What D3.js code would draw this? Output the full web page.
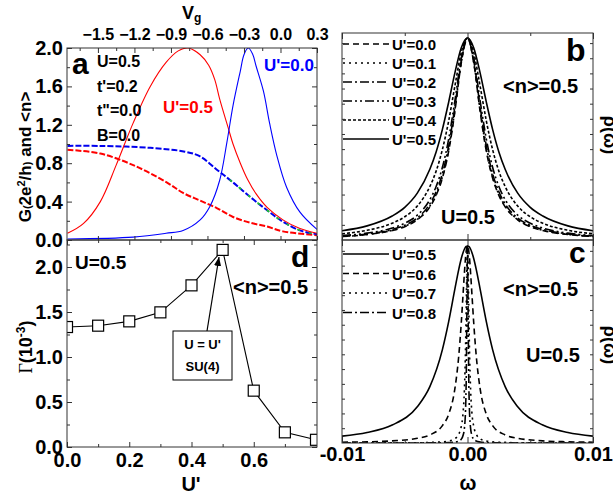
<!DOCTYPE html>
<html><head><meta charset="utf-8">
<script src="https://cdn.jsdelivr.net/npm/d3@7"></script>
<style>
body{margin:0;background:#fff}
svg{display:block}
text{font-family:Arial,"Liberation Sans",sans-serif;font-weight:bold;fill:#000}
</style>
</head><body>
<svg id="chart" width="613" height="494"></svg>
<script>
// ---------- Panel a data (G and <n> vs Vg) ----------
const vgTicks = [-1.5,-1.2,-0.9,-0.6,-0.3,0.0,0.3];
const gTicks = [0,0.4,0.8,1.2,1.6,2.0];
const redG_vg  = [-1.75,-1.62,-1.48,-1.35,-1.21,-1.07,-0.94,-0.84,-0.76,-0.66,-0.59,-0.54,-0.50,-0.43,-0.39,-0.33,-0.27,-0.20,-0.11,0.02,0.16,0.30];
const redG     = [0.07,0.17,0.40,0.78,1.22,1.60,1.85,1.97,2.0,1.93,1.82,1.67,1.47,1.17,1.00,0.80,0.63,0.48,0.34,0.21,0.12,0.07];
const blueG_vg = [-1.75,-1.21,-0.94,-0.80,-0.66,-0.58,-0.50,-0.44,-0.39,-0.33,-0.30,-0.265,-0.23,-0.20,-0.14,-0.09,-0.03,0.05,0.16,0.30];
const blueG    = [0.01,0.03,0.07,0.10,0.21,0.35,0.62,1.02,1.40,1.76,1.93,2.0,1.94,1.81,1.55,1.22,0.88,0.55,0.29,0.11];
const blueN_vg = [-1.75,-1.48,-1.07,-0.785,-0.66,-0.52,-0.39,-0.25,-0.11,0.02,0.16,0.30];
const blueN    = [0.98,0.98,0.96,0.92,0.87,0.73,0.60,0.45,0.31,0.19,0.10,0.06];
const redN_vg  = [-1.75,-1.48,-1.21,-0.935,-0.80,-0.66,-0.52,-0.39,-0.25,-0.11,0.02,0.30];
const redN     = [0.94,0.90,0.78,0.60,0.49,0.41,0.33,0.24,0.18,0.14,0.09,0.05];
const greenN_vg = [-0.45,-0.39,-0.25,-0.11,0.02,0.16,0.30];
const greenN    = [0.66,0.60,0.45,0.31,0.19,0.10,0.06];

// ---------- Panel d data (Gamma vs U') ----------
const uPrime = [0.0,0.1,0.2,0.3,0.4,0.5,0.6,0.7,0.8];
const gamma  = [1.333,1.348,1.396,1.496,1.796,2.19,0.626,0.163,0.08];
const uTicks = [0.0,0.2,0.4,0.6];
const gamTicks = [0.0,0.5,1.0,1.5,2.0];

// ---------- Panel b data (rho(omega), omega in 1e-3) ----------
const omegaB = [-10,-8,-6,-5,-4,-3,-2.5,-2,-1.5,-1,-0.5,0,0.5,1,1.5,2,2.5,3,4,5,6,8,10];
const rhoB00 = [0.017,0.027,0.047,0.066,0.100,0.164,0.221,0.307,0.440,0.639,0.876,1,0.876,0.639,0.440,0.307,0.221,0.164,0.100,0.066,0.047,0.027,0.017];
const rhoB01 = [0.018,0.028,0.048,0.068,0.102,0.168,0.226,0.313,0.448,0.646,0.879,1,0.879,0.646,0.448,0.313,0.226,0.168,0.102,0.068,0.048,0.028,0.018];
const rhoB02 = [0.019,0.030,0.052,0.073,0.109,0.179,0.239,0.329,0.466,0.662,0.887,1,0.887,0.662,0.466,0.329,0.239,0.179,0.109,0.073,0.052,0.030,0.019];
const rhoB03 = [0.022,0.034,0.059,0.083,0.123,0.200,0.265,0.360,0.500,0.692,0.900,1,0.900,0.692,0.500,0.360,0.265,0.200,0.123,0.083,0.059,0.034,0.022];
const rhoB04 = [0.031,0.048,0.083,0.115,0.168,0.265,0.341,0.448,0.590,0.764,0.928,1,0.928,0.764,0.590,0.448,0.341,0.265,0.168,0.115,0.083,0.048,0.031];
const rhoB05 = [0.046,0.070,0.119,0.162,0.232,0.350,0.436,0.548,0.683,0.829,0.951,1,0.951,0.829,0.683,0.548,0.436,0.350,0.232,0.162,0.119,0.070,0.046];
const legendB = ["U'=0.0","U'=0.1","U'=0.2","U'=0.3","U'=0.4","U'=0.5"];

// ---------- Panel c data ----------
const omegaC = [-10,-8,-6,-4,-3,-2,-1.5,-1,-0.7,-0.5,-0.35,-0.25,-0.15,-0.1,-0.05,0,0.05,0.1,0.15,0.25,0.35,0.5,0.7,1,1.5,2,3,4,6,8,10];
const rhoC05 = [0.035,0.053,0.091,0.184,0.286,0.474,0.616,0.783,0.880,0.935,0.967,0.983,0.994,0.997,0.999,1,0.999,0.997,0.994,0.983,0.967,0.935,0.880,0.783,0.616,0.474,0.286,0.184,0.091,0.053,0.035];
const rhoC06 = [0.004,0.006,0.011,0.024,0.041,0.088,0.146,0.278,0.440,0.606,0.758,0.860,0.945,0.975,0.994,1,0.994,0.975,0.945,0.860,0.758,0.606,0.440,0.278,0.146,0.088,0.041,0.024,0.011,0.006,0.004];
const rhoC07 = [0,0,0.001,0.001,0.003,0.006,0.010,0.022,0.044,0.083,0.155,0.265,0.500,0.692,0.900,1,0.900,0.692,0.500,0.265,0.155,0.083,0.044,0.022,0.010,0.006,0.003,0.001,0.001,0,0];
const rhoC08 = [0,0,0,0,0.001,0.001,0.002,0.005,0.010,0.019,0.039,0.073,0.179,0.329,0.662,1,0.662,0.329,0.179,0.073,0.039,0.019,0.010,0.005,0.002,0.001,0.001,0,0,0,0];
const legendC = ["U'=0.5","U'=0.6","U'=0.7","U'=0.8"];
const omegaTicks = [-10,0,10];
const omegaLabels = ["-0.01","0.00","0.01"];

// ---------- layout ----------
const svg = d3.select("#chart");
const frame = "#333";
const PA = {x0:67,x1:317,y0:48,y1:240};
const PD = {x0:67,x1:317,y0:240,y1:447};
const PB = {x0:342,x1:593,y0:33,y1:240};
const PC = {x0:342,x1:593,y0:240,y1:443};

const xVg = d3.scaleLinear().domain([-1.754,0.3]).range([PA.x0,PA.x1]);
const yG  = d3.scaleLinear().domain([0,2]).range([PA.y1,PA.y0]);
const xU  = d3.scaleLinear().domain([0,0.8]).range([PD.x0,PD.x1-1]);
const yGam= d3.scaleLinear().domain([0,2.3]).range([PD.y1,PD.y0]);
const xW  = d3.scaleLinear().domain([-10,10]).range([PB.x0,PB.x1]);
const yB  = d3.scaleLinear().domain([0,1.025]).range([PB.y1,PB.y0]);
const yC  = d3.scaleLinear().domain([0,1.03]).range([PC.y1,PC.y0]);

const defs = svg.append("defs");
function clip(id,p){
  defs.append("clipPath").attr("id",id).append("rect")
    .attr("x",p.x0).attr("y",p.y0).attr("width",p.x1-p.x0).attr("height",p.y1-p.y0);
}
clip("ca",PA); clip("cd",PD); clip("cb",PB); clip("cc",PC);
defs.append("marker").attr("id","arr").attr("viewBox","0 0 10 10").attr("refX",10).attr("refY",5)
  .attr("markerWidth",9).attr("markerHeight",9).attr("markerUnits","userSpaceOnUse").attr("orient","auto")
  .append("path").attr("d","M0,1 L10,5 L0,9 Z").attr("fill","#000");

function styleAxis(g, fs){
  g.attr("font-family",null).attr("font-size",null);
  g.select(".domain").remove();
  g.selectAll(".tick line").attr("stroke",frame);
  g.selectAll(".tick text").style("font-size",fs+"px").attr("fill","#000");
}
function addAxis(gen, tx, ty, fs){
  const g = svg.append("g").attr("transform",`translate(${tx},${ty})`).call(gen);
  styleAxis(g, fs||20);
  return g;
}
const noLab = () => "";

// ================= Panel a =================
const gA = svg.append("g").attr("clip-path","url(#ca)");
const lineA = (xs,ys) => d3.line().x((d,i)=>xVg(xs[i])).y(d=>yG(d)).curve(d3.curveCatmullRom.alpha(0.5))(ys);
gA.append("path").attr("d",lineA(redN_vg,redN)).attr("fill","none").attr("stroke","#ff0000").attr("stroke-width",2).attr("stroke-dasharray","6,2");
gA.append("path").attr("d",lineA(blueN_vg,blueN)).attr("fill","none").attr("stroke","#0000ee").attr("stroke-width",2).attr("stroke-dasharray","6,2");
gA.append("path").attr("d",lineA(greenN_vg,greenN)).attr("fill","none").attr("stroke","#22cc22").attr("stroke-width",1.6).attr("stroke-dasharray","3,9").attr("stroke-dashoffset",-5);
gA.append("path").attr("d",lineA(redG_vg,redG)).attr("fill","none").attr("stroke","#ff0000").attr("stroke-width",1.1);
gA.append("path").attr("d",lineA(blueG_vg,blueG)).attr("fill","none").attr("stroke","#0000ff").attr("stroke-width",1.1);

// axes for a
addAxis(d3.axisLeft(yG).tickValues(gTicks).tickSize(-5).tickPadding(4).tickFormat(d3.format(".1f")), PA.x0, 0, 20);
addAxis(d3.axisLeft(yG).tickValues([0.2,0.6,1.0,1.4,1.8]).tickSize(-3).tickFormat(noLab), PA.x0, 0);
addAxis(d3.axisRight(yG).tickValues(gTicks).tickSize(-5).tickFormat(noLab), PA.x1, 0);
addAxis(d3.axisRight(yG).tickValues([0.2,0.6,1.0,1.4,1.8]).tickSize(-3).tickFormat(noLab), PA.x1, 0);
addAxis(d3.axisTop(xVg).tickValues(vgTicks).tickSize(-5).tickPadding(8).tickFormat(d3.format(".1f")), 0, PA.y0, 16);
addAxis(d3.axisTop(xVg).tickValues([-1.65,-1.35,-1.05,-0.75,-0.45,-0.15,0.15]).tickSize(-3).tickFormat(noLab), 0, PA.y0);
addAxis(d3.axisBottom(xVg).tickValues(vgTicks).tickSize(-4).tickFormat(noLab), 0, PA.y1);

// frame a
svg.append("rect").attr("x",PA.x0).attr("y",PA.y0).attr("width",PA.x1-PA.x0).attr("height",PA.y1-PA.y0)
  .attr("fill","none").attr("stroke",frame).attr("stroke-width",1);

// texts a
svg.append("text").attr("x",72).attr("y",74).style("font-size","30px").text("a");
["U=0.5","t'=0.2","t\"=0.0","B=0.0"].forEach((t,i)=>{
  svg.append("text").attr("x",97).attr("y",67+i*24.5).style("font-size","16px").text(t);
});
svg.append("text").attr("x",163).attr("y",113).style("font-size","17px").style("fill","#ff0000").text("U'=0.5");
svg.append("text").attr("x",264).attr("y",71).style("font-size","17px").style("fill","#0000ff").text("U'=0.0");

// Vg title
const vgT = svg.append("text").attr("x",182).attr("y",19).style("font-size","18px");
vgT.append("tspan").text("V");
vgT.append("tspan").attr("dy",3).style("font-size","12px").text("g");

// G title
const gT = svg.append("text").attr("transform","translate(31,157) rotate(-90)").attr("text-anchor","middle").style("font-size","17px");
gT.append("tspan").text("G");
gT.append("tspan").style("font-size","11px").text("(");
gT.append("tspan").text("2e");
gT.append("tspan").attr("dy",-6).style("font-size","11px").text("2");
gT.append("tspan").attr("dy",6).text("/h");
gT.append("tspan").style("font-size","11px").text(")");
gT.append("tspan").text(" and <n>");

// ================= Panel d =================
const gD = svg.append("g").attr("clip-path","url(#cd)");
const lineD = d3.line().x((d,i)=>xU(uPrime[i])).y(d=>yGam(d));
gD.append("path").attr("d",lineD(gamma)).attr("fill","none").attr("stroke","#000").attr("stroke-width",1.1);
gD.selectAll("rect.m").data(gamma).join("rect").attr("class","m")
  .attr("x",(d,i)=>xU(uPrime[i])-5.5).attr("y",d=>yGam(d)-5.5).attr("width",11).attr("height",11)
  .attr("fill","#fff").attr("stroke","#000").attr("stroke-width",1.2);

addAxis(d3.axisLeft(yGam).tickValues(gamTicks).tickSize(-5).tickPadding(4).tickFormat(d3.format(".1f")), PD.x0, 0, 20);
addAxis(d3.axisLeft(yGam).tickValues([0.25,0.75,1.25,1.75,2.25]).tickSize(-3).tickFormat(noLab), PD.x0, 0);
addAxis(d3.axisRight(yGam).tickValues(gamTicks).tickSize(-5).tickFormat(noLab), PD.x1, 0);
addAxis(d3.axisRight(yGam).tickValues([0.25,0.75,1.25,1.75,2.25]).tickSize(-3).tickFormat(noLab), PD.x1, 0);
addAxis(d3.axisBottom(xU).tickValues(uTicks).tickSize(-5).tickPadding(6).tickFormat(d3.format(".1f")), 0, PD.y1, 20);
addAxis(d3.axisBottom(xU).tickValues([0.1,0.3,0.5,0.7]).tickSize(-3).tickFormat(noLab), 0, PD.y1);
addAxis(d3.axisTop(xU).tickValues(uTicks).tickSize(-5).tickFormat(noLab), 0, PD.y0);
addAxis(d3.axisTop(xU).tickValues([0.1,0.3,0.5,0.7]).tickSize(-3).tickFormat(noLab), 0, PD.y0);

svg.append("rect").attr("x",PD.x0).attr("y",PD.y0).attr("width",PD.x1-PD.x0).attr("height",PD.y1-PD.y0)
  .attr("fill","none").attr("stroke",frame).attr("stroke-width",1);

svg.append("text").attr("x",75).attr("y",269).style("font-size","19px").text("U=0.5");
svg.append("text").attr("x",291).attr("y",267).style("font-size","30px").text("d");
svg.append("text").attr("x",233).attr("y",294).style("font-size","20px").text("<n>=0.5");
// annotation box + arrow
svg.append("line").attr("x1",207).attr("y1",331).attr("x2",219).attr("y2",257)
  .attr("stroke","#000").attr("stroke-width",1.2).attr("marker-end","url(#arr)");
svg.append("rect").attr("x",173).attr("y",331).attr("width",59).attr("height",49)
  .attr("fill","#fff").attr("stroke","#000").attr("stroke-width",1);
svg.append("text").attr("x",202.5).attr("y",349).attr("text-anchor","middle").style("font-size","13px").text("U = U'");
svg.append("text").attr("x",202.5).attr("y",371).attr("text-anchor","middle").style("font-size","13px").text("SU(4)");

// Gamma title
const gamT = svg.append("text").attr("transform","translate(32,347) rotate(-90)").attr("text-anchor","middle").style("font-size","18px");
gamT.append("tspan").style("font-family","'Liberation Serif','Times New Roman',serif").style("font-weight","normal").text("Γ");
gamT.append("tspan").text("(10");
gamT.append("tspan").attr("dy",-7).style("font-size","12px").text("-3");
gamT.append("tspan").attr("dy",7).text(")");
// U' title
svg.append("text").attr("x",191).attr("y",491).attr("text-anchor","middle").style("font-size","20px").text("U'");

// ================= Panel b =================
const gB = svg.append("g").attr("clip-path","url(#cb)");
const stylesB = [
  {d:rhoB00, dash:"6,4"},
  {d:rhoB01, dash:"2,4"},
  {d:rhoB02, dash:"9,3,2,3"},
  {d:rhoB03, dash:"9,3,2,3,2,3"},
  {d:rhoB04, dash:"3,2"},
  {d:rhoB05, dash:null}
];
const lineB = d3.line().x((d,i)=>xW(omegaB[i])).y(d=>yB(d)).curve(d3.curveMonotoneX);
stylesB.forEach(s=>{
  gB.append("path").attr("d",lineB(s.d)).attr("fill","none").attr("stroke","#000")
    .attr("stroke-width",1.6).attr("stroke-dasharray",s.dash);
});
legendB.forEach((t,i)=>{
  const y = 44 + i*19;
  svg.append("line").attr("x1",343).attr("x2",389).attr("y1",y).attr("y2",y)
    .attr("stroke","#000").attr("stroke-width",1.5).attr("stroke-dasharray",stylesB[i].dash);
  svg.append("text").attr("x",392).attr("y",y+6).style("font-size","15px").text(t);
});
const rhoMinor = d3.range(1,14).map(k=>k*0.075);
addAxis(d3.axisLeft(yB).tickValues(rhoMinor).tickSize(-3).tickFormat(noLab), PB.x0, 0);
addAxis(d3.axisRight(yB).tickValues(rhoMinor).tickSize(-3).tickFormat(noLab), PB.x1, 0);
addAxis(d3.axisTop(xW).tickValues(omegaTicks).tickSize(-6).tickFormat(noLab), 0, PB.y0);
addAxis(d3.axisTop(xW).tickValues([-5,5]).tickSize(-3).tickFormat(noLab), 0, PB.y0);
addAxis(d3.axisBottom(xW).tickValues(omegaTicks).tickSize(-6).tickFormat(noLab), 0, PB.y1);
addAxis(d3.axisBottom(xW).tickValues([-5,5]).tickSize(-3).tickFormat(noLab), 0, PB.y1);
svg.append("rect").attr("x",PB.x0).attr("y",PB.y0).attr("width",PB.x1-PB.x0).attr("height",PB.y1-PB.y0)
  .attr("fill","none").attr("stroke",frame).attr("stroke-width",1);
svg.append("text").attr("x",566).attr("y",61).style("font-size","32px").text("b");
svg.append("text").attr("x",503).attr("y",93).style("font-size","20px").text("<n>=0.5");
svg.append("text").attr("x",441).attr("y",224).style("font-size","20px").text("U=0.5");
svg.append("text").attr("transform","translate(604,135) rotate(90)").attr("text-anchor","middle").style("font-size","18px").text("ρ(ω)");

// ================= Panel c =================
const gC = svg.append("g").attr("clip-path","url(#cc)");
const stylesC = [
  {d:rhoC05, dash:null},
  {d:rhoC06, dash:"6,4"},
  {d:rhoC07, dash:"2,4"},
  {d:rhoC08, dash:"9,3,2,3"}
];
const lineC = d3.line().x((d,i)=>xW(omegaC[i])).y(d=>yC(d)).curve(d3.curveMonotoneX);
stylesC.forEach(s=>{
  gC.append("path").attr("d",lineC(s.d)).attr("fill","none").attr("stroke","#000")
    .attr("stroke-width",1.6).attr("stroke-dasharray",s.dash);
});
legendC.forEach((t,i)=>{
  const y = 254 + i*19.5;
  svg.append("line").attr("x1",343).attr("x2",389).attr("y1",y).attr("y2",y)
    .attr("stroke","#000").attr("stroke-width",1.5).attr("stroke-dasharray",stylesC[i].dash);
  svg.append("text").attr("x",392).attr("y",y+6).style("font-size","15px").text(t);
});
addAxis(d3.axisLeft(yC).tickValues(rhoMinor).tickSize(-3).tickFormat(noLab), PC.x0, 0);
addAxis(d3.axisRight(yC).tickValues(rhoMinor).tickSize(-3).tickFormat(noLab), PC.x1, 0);
addAxis(d3.axisTop(xW).tickValues(omegaTicks).tickSize(-6).tickFormat(noLab), 0, PC.y0);
addAxis(d3.axisBottom(xW).tickValues(omegaTicks).tickSize(-6).tickPadding(4).tickFormat((d,i)=>omegaLabels[i]), 0, PC.y1, 20);
addAxis(d3.axisBottom(xW).tickValues([-5,5]).tickSize(-3).tickFormat(noLab), 0, PC.y1);
svg.append("rect").attr("x",PC.x0).attr("y",PC.y0).attr("width",PC.x1-PC.x0).attr("height",PC.y1-PC.y0)
  .attr("fill","none").attr("stroke",frame).attr("stroke-width",1);
svg.append("text").attr("x",569).attr("y",263).style("font-size","30px").text("c");
svg.append("text").attr("x",503).attr("y",296).style("font-size","20px").text("<n>=0.5");
svg.append("text").attr("x",526).attr("y",362).style("font-size","20px").text("U=0.5");
svg.append("text").attr("transform","translate(604,345) rotate(90)").attr("text-anchor","middle").style("font-size","18px").text("ρ(ω)");
svg.append("text").attr("x",468).attr("y",490).attr("text-anchor","middle").style("font-size","20px").text("ω");
</script>
</body></html>
